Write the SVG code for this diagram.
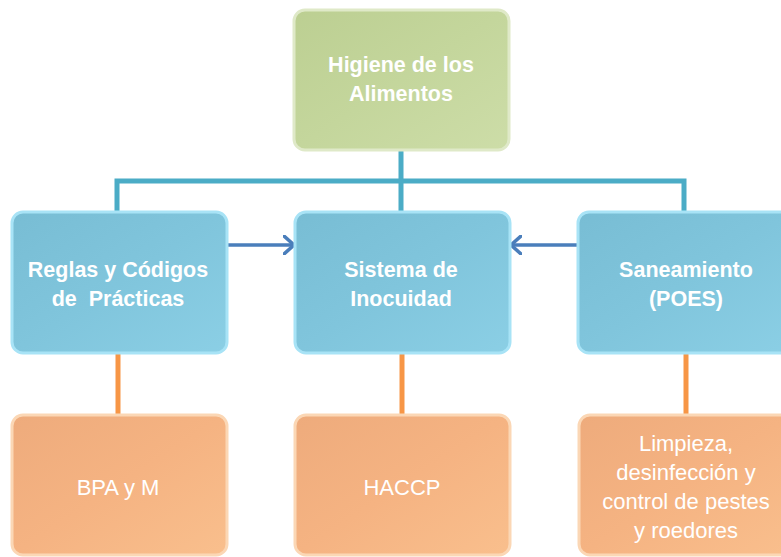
<svg xmlns="http://www.w3.org/2000/svg" width="781" height="557" viewBox="0 0 781 557">
<defs>
<linearGradient id="gG" x1="0" y1="0" x2="1" y2="1"><stop offset="0" stop-color="#bccf92"/><stop offset="0.5" stop-color="#c4d69c"/><stop offset="1" stop-color="#cddda8"/></linearGradient>
<linearGradient id="gB" x1="0" y1="0" x2="1" y2="1"><stop offset="0" stop-color="#78bdd4"/><stop offset="0.5" stop-color="#80c5dc"/><stop offset="1" stop-color="#8bcfe5"/></linearGradient>
<linearGradient id="gO" x1="0" y1="0" x2="1" y2="1"><stop offset="0" stop-color="#eeab7c"/><stop offset="0.5" stop-color="#f5b382"/><stop offset="1" stop-color="#f9bf8d"/></linearGradient>
<marker id="arr" viewBox="0 0 12 20" refX="11" refY="10" markerWidth="12" markerHeight="20" markerUnits="userSpaceOnUse" orient="auto"><path d="M1,1 L11,10 L1,19" fill="none" stroke="#4a7ebb" stroke-width="3.5" stroke-linecap="round" stroke-linejoin="round"/></marker>
</defs>
<style>
.green{fill:url(#gG);stroke:#dfe9c8;stroke-width:3}
.blue{fill:url(#gB);stroke:#a8e3f6;stroke-width:3}
.orange{fill:url(#gO);stroke:#fbd7b5;stroke-width:3}
.tb{font-family:"Liberation Sans",Arial,sans-serif;font-weight:bold;font-size:21.5px;fill:#ffffff;text-anchor:middle}
.tr{font-family:"Liberation Sans",Arial,sans-serif;font-size:22px;fill:#ffffff;text-anchor:middle}
.cb{fill:none;stroke:#4bacc6;stroke-width:5}
.co{fill:none;stroke:#f79646;stroke-width:5}
.ca{fill:none;stroke:#4a7ebb;stroke-width:3.5}
</style>
<g id="connectors">
<path class="cb" d="M401,150 V181 M117,212 V181 H684 V212 M401,181 V212"/>
<path class="co" d="M118,353 V415 M402,353 V415 M686,353 V415"/>
<path class="ca" d="M227,245 H294" marker-end="url(#arr)"/>
<path class="ca" d="M577,245 H511" marker-end="url(#arr)"/>
</g>
<g id="n-higiene">
<rect class="green" x="294" y="10" width="215" height="140" rx="11"/>
<text class="tb" x="401" y="72">Higiene de los</text>
<text class="tb" x="401" y="101">Alimentos</text>
</g>
<g id="n-reglas">
<rect class="blue" x="12" y="212" width="215" height="141" rx="11"/>
<text class="tb" x="118" y="277">Reglas y Códigos</text>
<text class="tb" x="118" y="306" xml:space="preserve">de  Prácticas</text>
</g>
<g id="n-sistema">
<rect class="blue" x="295" y="212" width="215" height="141" rx="11"/>
<text class="tb" x="401" y="277">Sistema de</text>
<text class="tb" x="401" y="306">Inocuidad</text>
</g>
<g id="n-saneamiento">
<rect class="blue" x="578" y="212" width="215" height="141" rx="11"/>
<text class="tb" x="686" y="277">Saneamiento</text>
<text class="tb" x="686" y="306">(POES)</text>
</g>
<g id="n-bpa">
<rect class="orange" x="12" y="415" width="215" height="140" rx="11"/>
<text class="tr" x="118" y="495">BPA y M</text>
</g>
<g id="n-haccp">
<rect class="orange" x="295" y="415" width="215" height="140" rx="11"/>
<text class="tr" x="402" y="495">HACCP</text>
</g>
<g id="n-limpieza">
<rect class="orange" x="579" y="415" width="215" height="140" rx="11"/>
<text class="tr" x="686" y="451">Limpieza,</text>
<text class="tr" x="686" y="480">desinfección y</text>
<text class="tr" x="686" y="509">control de pestes</text>
<text class="tr" x="686" y="538">y roedores</text>
</g>
</svg>
